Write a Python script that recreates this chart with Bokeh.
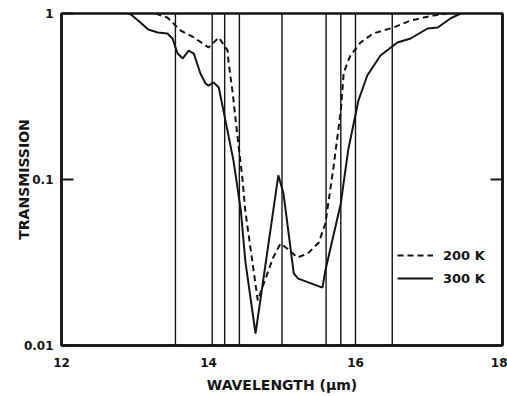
from bokeh.plotting import figure
from bokeh.models import Range1d, FixedTicker, LogAxis, Legend, LegendItem
from bokeh.embed import file_html
from bokeh.resources import INLINE

# 300 K transmission (solid)
wl_300 = [12.90, 12.94, 13.07, 13.18, 13.31, 13.44, 13.51, 13.58, 13.65, 13.73, 13.80,
          13.89, 13.96, 14.00, 14.07, 14.14, 14.23, 14.34, 14.44, 14.50, 14.64,
          14.95, 15.02, 15.16, 15.22, 15.55, 15.59, 15.80, 15.90, 16.04, 16.16,
          16.34, 16.57, 16.75, 16.98, 17.12, 17.29, 17.43]
tr_300 = [1.0, 0.99, 0.886, 0.801, 0.768, 0.758, 0.707, 0.574, 0.536, 0.598, 0.574,
          0.435, 0.379, 0.368, 0.384, 0.358, 0.227, 0.130, 0.065, 0.0325, 0.0118,
          0.106, 0.0824, 0.0272, 0.0253, 0.0223, 0.0283, 0.0717, 0.150, 0.299, 0.423,
          0.558, 0.669, 0.707, 0.812, 0.824, 0.933, 1.0]

# 200 K transmission (dashed)
wl_200 = [13.28, 13.44, 13.62, 13.80, 14.00, 14.14, 14.26, 14.27, 14.33, 14.39, 14.46,
          14.50, 14.67, 14.88, 14.98, 15.07, 15.21, 15.35, 15.50, 15.59, 15.70,
          15.80, 15.84, 15.93, 16.07, 16.24, 16.52, 16.75, 17.06, 17.25]
tr_200 = [1.0, 0.946, 0.790, 0.717, 0.624, 0.717, 0.598, 0.521, 0.330, 0.189, 0.103,
          0.065, 0.0187, 0.0339, 0.0411, 0.0384, 0.0339, 0.0358, 0.0417, 0.0543, 0.118,
          0.260, 0.441, 0.558, 0.669, 0.758, 0.824, 0.908, 0.973, 1.0]

# filter band edges (vertical lines)
filter_edges = [13.55, 14.05, 14.22, 14.42, 15.0, 15.6, 15.8, 16.0, 16.5]

x_ticks = [12, 14, 16, 18]
y_ticks = [0.01, 0.1, 1]
y_tick_labels = ["0.01", "0.1", "1"]
legend_labels = ["200 K", "300 K"]

FONT = "DejaVu Sans"
INK = "#141414"

p = figure(frame_width=441, frame_height=332, y_axis_type="log",
           x_range=Range1d(12, 18), y_range=Range1d(0.01, 1),
           output_backend="svg", toolbar_location=None,
           min_border_left=61, min_border_right=5, min_border_top=13,
           min_border_bottom=50, background_fill_color="white",
           border_fill_color="white")

p.grid.visible = False
p.outline_line_color = INK
p.outline_line_width = 2.5

n = len(filter_edges)
p.segment(x0=filter_edges, y0=[y_ticks[0]] * n, x1=filter_edges, y1=[y_ticks[-1]] * n,
          line_color=INK, line_width=1.4)

r200 = p.line(wl_200, tr_200, line_color=INK, line_width=2.0, line_dash="6 4")
r300 = p.line(wl_300, tr_300, line_color=INK, line_width=2.0)

# x axis
xa = p.xaxis[0]
xa.ticker = FixedTicker(ticks=x_ticks)
xa.major_tick_in = 0
xa.major_tick_out = 0
xa.minor_tick_line_color = None
xa.axis_line_width = 2.5
xa.axis_line_color = INK
xa.major_label_standoff = 12
xa.major_label_text_font = FONT
xa.major_label_text_font_style = "bold"
xa.major_label_text_font_size = "12px"
xa.major_label_text_color = INK
xa.axis_label = "WAVELENGTH (µm)"
xa.axis_label_text_font = FONT
xa.axis_label_text_font_style = "bold"
xa.axis_label_text_font_size = "14px"
xa.axis_label_text_color = INK
xa.axis_label_standoff = 7

# y axis (left)
ya = p.yaxis[0]
ya.ticker = FixedTicker(ticks=y_ticks)
ya.major_label_overrides = dict(zip(y_ticks, y_tick_labels))
ya.major_tick_in = 12
ya.major_tick_out = 0
ya.major_tick_line_width = 2
ya.major_tick_line_color = INK
ya.minor_tick_line_color = None
ya.axis_line_width = 2.5
ya.axis_line_color = INK
ya.major_label_standoff = 8
ya.major_label_text_font = FONT
ya.major_label_text_font_style = "bold"
ya.major_label_text_font_size = "12px"
ya.major_label_text_color = INK
ya.axis_label = "TRANSMISSION"
ya.axis_label_text_font = FONT
ya.axis_label_text_font_style = "bold"
ya.axis_label_text_font_size = "14px"
ya.axis_label_text_color = INK
ya.axis_label_standoff = -11

# right axis: only a tick at 0.1, no label
ra = LogAxis(ticker=FixedTicker(ticks=[y_ticks[1]]), major_tick_in=12, major_tick_out=0,
             major_tick_line_width=2, major_tick_line_color=INK,
             minor_tick_line_color=None, axis_line_color=INK, axis_line_width=2.5,
             major_label_text_font_size="12px", major_label_standoff=0)
ra.major_label_overrides = {y_ticks[1]: ""}
p.add_layout(ra, "right")

legend = Legend(items=[LegendItem(label=legend_labels[0], renderers=[r200]),
                       LegendItem(label=legend_labels[1], renderers=[r300])],
                location=(336, 57), padding=0, margin=0, spacing=3,
                glyph_width=36, glyph_height=20, label_height=20, label_standoff=10,
                background_fill_alpha=0, border_line_color=None,
                label_text_font=FONT, label_text_font_style="bold",
                label_text_font_size="13px", label_text_color=INK)
p.add_layout(legend)

open("out.html", "w").write(file_html(p, INLINE))
